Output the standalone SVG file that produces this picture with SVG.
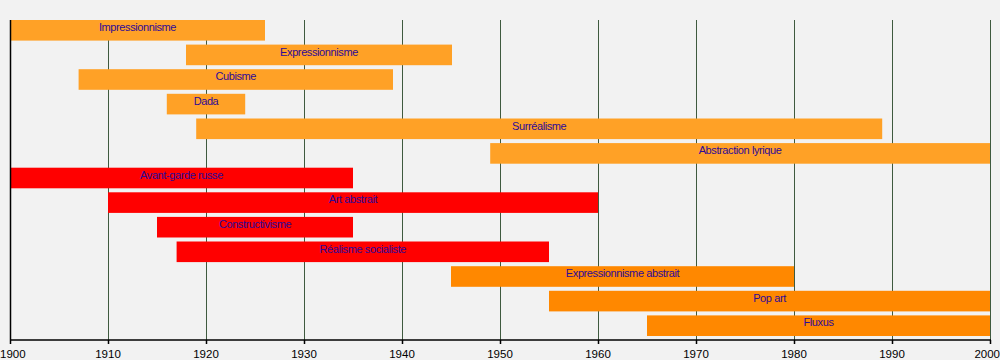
<svg xmlns="http://www.w3.org/2000/svg" width="1000" height="360" viewBox="0 0 1000 360">
<style>
.bg{fill:#f2f2f2}
.grid{stroke:#3f5a3f;stroke-width:1}
.axis{stroke:#000;stroke-width:1.5}
.tick{font-family:"Liberation Sans",Arial,sans-serif;font-size:11.5px;fill:#000;text-anchor:middle}
.o1{fill:#ffa126}
.rd{fill:#ff0000}
.o2{fill:#ff8800}
.lbl{font-family:"Liberation Sans",Arial,sans-serif;font-size:11px;letter-spacing:-0.4px;fill:#2e0a96;text-anchor:middle}
</style>
<rect class="bg" x="0" y="0" width="1000" height="360"/>
<g id="grid">
<line class="grid" x1="108.5" y1="20" x2="108.5" y2="340"/>
<line class="grid" x1="206.5" y1="20" x2="206.5" y2="340"/>
<line class="grid" x1="304.5" y1="20" x2="304.5" y2="340"/>
<line class="grid" x1="402.5" y1="20" x2="402.5" y2="340"/>
<line class="grid" x1="500.5" y1="20" x2="500.5" y2="340"/>
<line class="grid" x1="598.5" y1="20" x2="598.5" y2="340"/>
<line class="grid" x1="696.5" y1="20" x2="696.5" y2="340"/>
<line class="grid" x1="794.5" y1="20" x2="794.5" y2="340"/>
<line class="grid" x1="892.5" y1="20" x2="892.5" y2="340"/>
<line class="grid" x1="990.5" y1="20" x2="990.5" y2="340"/>
</g>
<g id="bar-impressionnisme"><rect class="o1" x="10" y="20" width="255" height="20.6"/><text class="lbl" x="137.5" y="31">Impressionnisme</text></g>
<g id="bar-expressionnisme"><rect class="o1" x="186" y="44.6" width="266" height="20.6"/><text class="lbl" x="319" y="55.6">Expressionnisme</text></g>
<g id="bar-cubisme"><rect class="o1" x="78.6" y="69.2" width="314.4" height="20.6"/><text class="lbl" x="235.8" y="80.2">Cubisme</text></g>
<g id="bar-dada"><rect class="o1" x="166.8" y="93.8" width="78.4" height="20.6"/><text class="lbl" x="206" y="104.8">Dada</text></g>
<g id="bar-surrealisme"><rect class="o1" x="196.2" y="118.5" width="686" height="20.6"/><text class="lbl" x="539.2" y="129.5">Surréalisme</text></g>
<g id="bar-abstraction-lyrique"><rect class="o1" x="490.2" y="143.1" width="499.8" height="20.6"/><text class="lbl" x="740.1" y="154.1">Abstraction lyrique</text></g>
<g id="bar-avant-garde-russe"><rect class="rd" x="10" y="167.7" width="343" height="20.6"/><text class="lbl" x="181.5" y="178.7">Avant-garde russe</text></g>
<g id="bar-art-abstrait"><rect class="rd" x="108" y="192.3" width="490" height="20.6"/><text class="lbl" x="353" y="203.3">Art abstrait</text></g>
<g id="bar-constructivisme"><rect class="rd" x="157" y="216.9" width="196" height="20.6"/><text class="lbl" x="255" y="227.9">Constructivisme</text></g>
<g id="bar-realisme-socialiste"><rect class="rd" x="176.6" y="241.5" width="372.4" height="20.6"/><text class="lbl" x="362.8" y="252.5">Réalisme socialiste</text></g>
<g id="bar-expressionnisme-abstrait"><rect class="o2" x="451" y="266.2" width="343" height="20.6"/><text class="lbl" x="622.5" y="277.2">Expressionnisme abstrait</text></g>
<g id="bar-pop-art"><rect class="o2" x="549" y="290.8" width="441" height="20.6"/><text class="lbl" x="769.5" y="301.8">Pop art</text></g>
<g id="bar-fluxus"><rect class="o2" x="647" y="315.4" width="343" height="20.6"/><text class="lbl" x="818.5" y="326.4">Fluxus</text></g>
<g id="axis">
<line class="axis" x1="10.5" y1="20" x2="10.5" y2="340"/>
<line class="axis" x1="10" y1="340" x2="991" y2="340"/>
<path class="axis" d="M10.5 340v4M108.5 340v4M206.5 340v4M304.5 340v4M402.5 340v4M500.5 340v4M598.5 340v4M696.5 340v4M794.5 340v4M892.5 340v4M990.5 340v4" fill="none"/>
<text class="tick" x="0" y="358" style="text-anchor:start">1900</text>
<text class="tick" x="108" y="358">1910</text>
<text class="tick" x="206" y="358">1920</text>
<text class="tick" x="304" y="358">1930</text>
<text class="tick" x="402" y="358">1940</text>
<text class="tick" x="500" y="358">1950</text>
<text class="tick" x="598" y="358">1960</text>
<text class="tick" x="696" y="358">1970</text>
<text class="tick" x="794" y="358">1980</text>
<text class="tick" x="892" y="358">1990</text>
<text class="tick" x="1000" y="358" style="text-anchor:end">2000</text>
</g>
</svg>
